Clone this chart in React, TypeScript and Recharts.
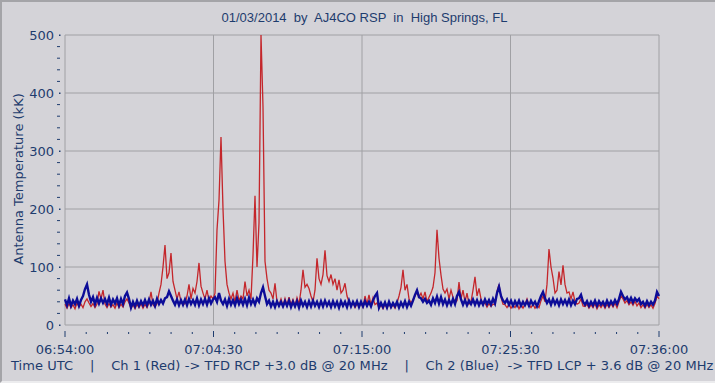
import React from 'react';
import { LineChart, Line, XAxis, YAxis, ReferenceLine, ReferenceArea } from 'recharts';

// Ch 2 (Blue) antenna temperature, kK — samples evenly spaced from 06:54:00 to 07:36:00
const blueValues = [
  44, 34, 46, 33, 42, 36, 45, 33, 43, 50,
  62, 70, 52, 40, 48, 36, 47, 37, 46, 38,
  45, 36, 47, 35, 44, 37, 46, 34, 45, 36,
  50, 56, 45, 30, 40, 32, 42, 33, 41, 34,
  43, 34, 44, 35, 42, 33, 45, 36, 43, 37,
  46, 48, 58, 50, 42, 35, 44, 34, 43, 35,
  44, 34, 45, 36, 43, 35, 46, 34, 44, 36,
  45, 35, 46, 37, 44, 48, 40, 55, 42, 36,
  44, 33, 45, 35, 43, 34, 46, 36, 44, 35,
  45, 34, 47, 36, 44, 35, 46, 40, 55, 65,
  50, 36, 42, 32, 40, 31, 41, 33, 40, 32,
  41, 33, 42, 31, 40, 32, 41, 30, 42, 33,
  40, 31, 41, 32, 42, 33, 40, 31, 41, 32,
  42, 33, 40, 31, 41, 32, 40, 30, 41, 33,
  40, 31, 42, 32, 40, 33, 41, 31, 40, 32,
  41, 33, 40, 32, 42, 50, 55, 30, 38, 31,
  39, 30, 40, 31, 38, 32, 40, 30, 39, 32,
  41, 31, 40, 33, 42, 52, 60, 48, 46, 40,
  45, 38, 42, 35, 46, 38, 49, 37, 48, 36,
  44, 34, 43, 35, 45, 36, 50, 57, 44, 35,
  43, 34, 42, 36, 44, 35, 43, 34, 42, 35,
  44, 36, 43, 35, 45, 37, 55, 66, 50, 42,
  38, 44, 35, 42, 33, 41, 34, 42, 33, 40,
  34, 41, 33, 42, 35, 40, 32, 41, 50, 57,
  46, 38, 44, 35, 45, 36, 43, 34, 44, 36,
  43, 35, 44, 34, 42, 36, 45, 46, 52, 40,
  35, 41, 33, 40, 34, 42, 33, 41, 35, 40,
  33, 42, 34, 41, 35, 43, 36, 45, 57, 50,
  44, 48, 40, 47, 39, 46, 41, 45, 36, 40,
  33, 41, 34, 40, 35, 42, 57, 50,
];

// Ch 1 (Red) antenna temperature, kK
const redValues = [
  36, 29, 37, 30, 35, 28, 38, 31, 36, 30,
  40, 45, 38, 32, 37, 30, 36, 58, 45, 60,
  36, 30, 37, 31, 35, 29, 38, 30, 36, 31,
  40, 45, 38, 29, 35, 28, 36, 30, 37, 29,
  36, 30, 38, 57, 35, 31, 37, 55, 70, 100,
  138, 80, 90, 124, 75, 60, 45, 57, 40, 35,
  37, 50, 70, 45, 63, 55, 75, 107, 67, 55,
  45, 60, 42, 50, 45, 55, 164, 215, 324, 200,
  110, 70, 55, 45, 55, 40, 60, 42, 50, 45,
  75, 50, 60, 45, 120, 223, 100, 176, 500, 376,
  110, 80, 60, 55, 45, 72, 40, 35, 45, 33,
  46, 34, 48, 35, 44, 33, 47, 36, 60, 95,
  65, 70, 63, 50, 40, 60, 115, 80, 70, 87,
  129, 85, 75, 87, 70, 80, 60, 78, 55, 60,
  72, 50, 40, 34, 38, 30, 36, 33, 37, 31,
  50, 36, 52, 34, 47, 35, 38, 29, 35, 28,
  36, 29, 37, 30, 35, 29, 38, 50, 65, 95,
  60, 70, 45, 38, 44, 50, 57, 48, 55, 45,
  57, 40, 48, 55, 65, 90, 164, 115, 86, 62,
  55, 62, 45, 60, 48, 38, 42, 74, 45, 60,
  40, 55, 36, 40, 60, 83, 50, 63, 45, 36,
  38, 31, 37, 32, 36, 35, 58, 70, 48, 36,
  35, 30, 36, 29, 34, 30, 37, 28, 35, 29,
  36, 45, 35, 30, 36, 29, 34, 30, 42, 50,
  40, 70, 131, 100, 81, 55, 60, 92, 69, 103,
  70, 55, 57, 45, 57, 40, 36, 38, 45, 33,
  32, 36, 29, 35, 30, 37, 28, 35, 30, 36,
  29, 36, 30, 37, 31, 38, 30, 40, 50, 45,
  38, 42, 35, 40, 34, 41, 33, 38, 30, 35,
  29, 36, 30, 35, 29, 37, 50, 45,
];

const SPAN_SECONDS = 2520; // 06:54:00 -> 07:36:00
const xMajorTicks = [0, 630, 1260, 1890, 2520];
const xMajorLabels = ['06:54:00', '07:04:30', '07:15:00', '07:25:30', '07:36:00'];
const xMinorTicks = [
  0, 90, 180, 270, 360, 450, 540, 630, 720, 810, 900, 990, 1080, 1170, 1260,
  1350, 1440, 1530, 1620, 1710, 1800, 1890, 1980, 2070, 2160, 2250, 2340, 2430, 2520,
];
const yTicks = [
  0, 20, 40, 60, 80, 100, 120, 140, 160, 180, 200, 220, 240, 260, 280, 300,
  320, 340, 360, 380, 400, 420, 440, 460, 480, 500,
];
const yLabelTicks = [0, 100, 200, 300, 400, 500];
const yGrid = [100, 200, 300, 400];
const xGrid = [630, 1260, 1890];

const TITLE = '01/03/2014  by  AJ4CO RSP  in  High Springs, FL';
const Y_LABEL = 'Antenna Temperature (kK)';
const FOOTER = 'Time UTC    |    Ch 1 (Red) -> TFD RCP +3.0 dB @ 20 MHz    |    Ch 2 (Blue)  -> TFD LCP + 3.6 dB @ 20 MHz';

const data = blueValues.map((b, i) => ({
  t: (i * SPAN_SECONDS) / (blueValues.length - 1),
  blue: b,
  red: redValues[i],
}));

const BG = '#d4d3d8';
const TEXT = '#1e3c6e';
const GRID = '#a0a0a4';
const FONT = '"DejaVu Sans", Verdana, sans-serif';

const XTick = (props: any) => {
  const { x, y, payload } = props;
  const idx = xMajorTicks.indexOf(payload.value);
  const major = idx >= 0;
  return (
    <g>
      <line x1={x} x2={x} y1={y + (major ? 6 : 7)} y2={y + (major ? 12 : 9)} stroke={TEXT} strokeWidth={1} />
      {major && (
        <text x={x} y={y + 29} textAnchor="middle" fill={TEXT} fontFamily={FONT} fontSize={13}>
          {xMajorLabels[idx]}
        </text>
      )}
    </g>
  );
};

const YTick = (props: any) => {
  const { x, y, payload } = props;
  const v = payload.value;
  const major = yLabelTicks.includes(v);
  return (
    <g>
      {major ? (
        <rect x={x - 6} y={y - 0.5} width={1.5} height={1.5} fill={TEXT} />
      ) : (
        <line x1={x - 8} x2={x - 5} y1={y} y2={y} stroke={TEXT} strokeWidth={1} />
      )}
      {major && (
        <text x={x - 11} y={y} dy={4.5} textAnchor="end" fill={TEXT} fontFamily={FONT} fontSize={13}>
          {v}
        </text>
      )}
    </g>
  );
};

export default function App() {
  return (
    <div style={{ position: 'fixed', left: 0, top: 0, width: 715, height: 383, background: BG, overflow: 'hidden' }}>
      <LineChart
        width={715}
        height={383}
        data={data}
        margin={{ top: 35, right: 56, bottom: 0, left: 5 }}
      >
        <XAxis
          dataKey="t"
          type="number"
          domain={[0, SPAN_SECONDS]}
          ticks={xMinorTicks}
          interval={0}
          height={58}
          axisLine={false}
          tickLine={false}
          tickSize={0}
          tickMargin={0}
          tick={<XTick />}
        />
        <YAxis
          type="number"
          domain={[0, 500]}
          ticks={yTicks}
          interval={0}
          width={60}
          axisLine={false}
          tickLine={false}
          tickSize={0}
          tickMargin={0}
          tick={<YTick />}
        />
        {yGrid.map((v) => (
          <ReferenceLine key={'y' + v} y={v} stroke={GRID} strokeWidth={1} />
        ))}
        {xGrid.map((v) => (
          <ReferenceLine key={'x' + v} x={v} stroke={GRID} strokeWidth={1} />
        ))}
        <ReferenceArea x1={0} x2={SPAN_SECONDS} y1={0} y2={500} fill="none" fillOpacity={0} stroke={GRID} strokeWidth={1} />
        <Line
          type="linear"
          dataKey="red"
          stroke="#c4262b"
          strokeWidth={1.3}
          dot={false}
          isAnimationActive={false}
        />
        <Line
          type="linear"
          dataKey="blue"
          stroke="#0c0c98"
          strokeWidth={2.4}
          strokeLinejoin="miter"
          dot={false}
          isAnimationActive={false}
        />
      </LineChart>
      <div
        style={{
          position: 'absolute', left: 364.5, top: 10, transform: 'translateX(-50%)',
          whiteSpace: 'pre', fontFamily: '"Liberation Sans", Arial, sans-serif', fontSize: 13,
          lineHeight: '16px', color: TEXT,
        }}
      >
        {TITLE}
      </div>
      <div
        style={{
          position: 'absolute', left: 19, top: 179, transform: 'translate(-50%, -50%) rotate(-90deg)',
          whiteSpace: 'pre', fontFamily: FONT, fontSize: 13, lineHeight: '16px', color: TEXT,
        }}
      >
        {Y_LABEL}
      </div>
      <div
        style={{
          position: 'absolute', left: 11, top: 358, whiteSpace: 'pre', fontFamily: FONT,
          fontSize: 13, lineHeight: '16px', color: TEXT, letterSpacing: '0.06px',
        }}
      >
        {FOOTER}
      </div>
      <div
        style={{
          position: 'absolute', left: 0, top: 0, width: 715, height: 383, boxSizing: 'border-box',
          borderTop: '2px solid #a4a4a8', borderLeft: '2px solid #a4a4a8', borderBottom: '2px solid #ececee',
          pointerEvents: 'none',
        }}
      />
    </div>
  );
}
